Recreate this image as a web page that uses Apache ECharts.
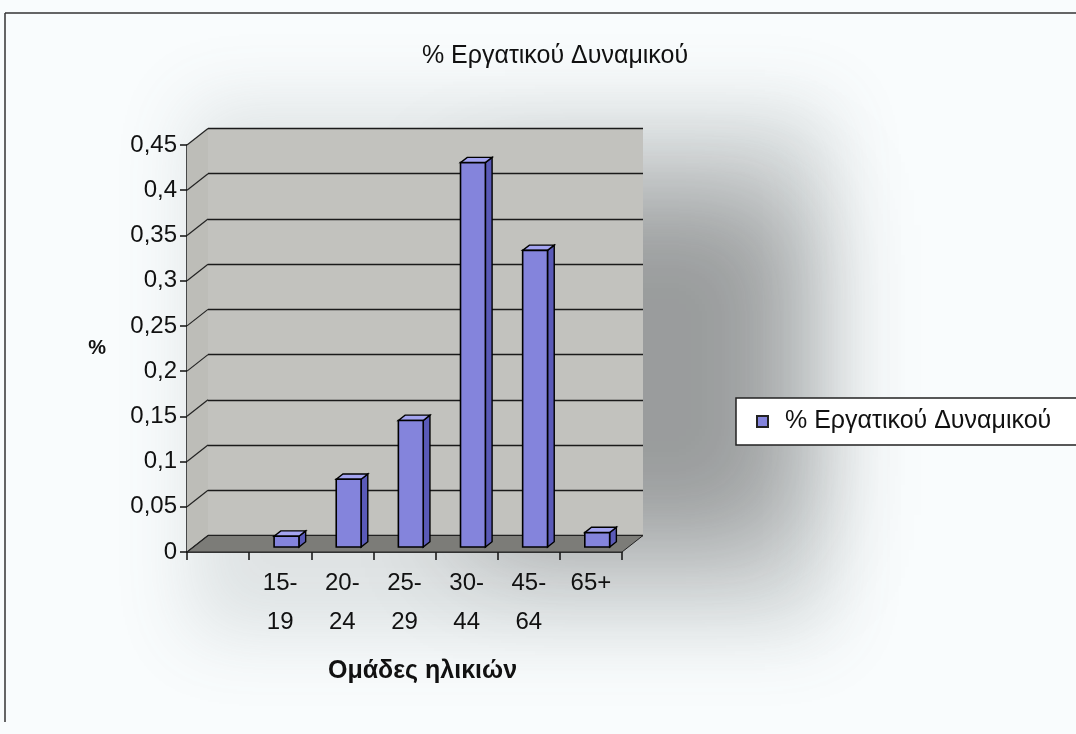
<!DOCTYPE html>
<html><head><meta charset="utf-8">
<script src="https://cdn.jsdelivr.net/npm/echarts@6/dist/echarts.min.js"></script>
<style>html,body{margin:0;padding:0;background:#fff}#c{width:1076px;height:734px}</style>
</head><body><div id="c"></div>
<script>
const categories = ["", "15-\n19", "20-\n24", "25-\n29", "30-\n44", "45-\n64", "65+"];
const values = [null, 0.012, 0.075, 0.140, 0.425, 0.328, 0.016];
const seriesName = "% Εργατικού Δυναμικού";
const titleText = "% Εργατικού Δυναμικού";
const xTitle = "Ομάδες ηλικιών";
const yTitle = "%";
const yMin = 0, yMax = 0.45, yStep = 0.05;
const yTicks = [];
for (let k = 0; k <= Math.round((yMax - yMin) / yStep); k++) yTicks.push(+(yMin + k * yStep).toFixed(2));

const DX = 21, DY = -16.5;
const FONT = "Liberation Sans";
const chart = echarts.init(document.getElementById('c'));

function renderFrame(params, api) {
  const bw = api.size([1, 0])[0];
  const n = categories.length;
  const L = api.coord([0, yMin])[0] - bw / 2;
  const R = api.coord([n - 1, yMin])[0] + bw / 2;
  const yb = api.coord([0, yMin])[1];
  const yt = api.coord([0, yMax])[1];
  const ch = [];
  ch.push({type: 'polygon', shape: {points: [[L, yt], [L + DX, yt + DY], [L + DX, yb + DY], [L, yb]]},
    style: {fill: '#bdbdb8', stroke: null}});
  ch.push({type: 'polygon', shape: {points: [[L, yb], [R, yb], [R + DX, yb + DY], [L + DX, yb + DY]]},
    style: {fill: '#7c7c78', stroke: '#222', lineWidth: 1}});
  yTicks.forEach(t => {
    const y = api.coord([0, t])[1];
    ch.push({type: 'line', shape: {x1: L, y1: y, x2: L + DX, y2: y + DY}, style: {stroke: '#222', lineWidth: 1.2}});
  });
  return {type: 'group', children: ch};
}

function renderBar(params, api) {
  const idx = api.value(0), v = api.value(1);
  const bw = api.size([1, 0])[0];
  const base = api.coord([idx, yMin]);
  const top = api.coord([idx, v]);
  const w = bw * 0.4;
  const f0 = 0.3, f1 = 0.62;
  const ddx = DX * (f1 - f0), ddy = DY * (f1 - f0);
  const x0 = base[0] - w / 2 + DX * f0;
  const yb = base[1] + DY * f0;
  const yt = top[1] + DY * f0;
  return {type: 'group', children: [
    {type: 'polygon', shape: {points: [[x0 + w, yt], [x0 + w + ddx, yt + ddy], [x0 + w + ddx, yb + ddy], [x0 + w, yb]]},
      style: {fill: '#5a5ab8', stroke: '#000', lineWidth: 1.4}},
    {type: 'polygon', shape: {points: [[x0, yt], [x0 + w, yt], [x0 + w + ddx, yt + ddy], [x0 + ddx, yt + ddy]]},
      style: {fill: '#a4a4f0', stroke: '#000', lineWidth: 1.4}},
    {type: 'rect', shape: {x: x0, y: yt, width: w, height: yb - yt},
      style: {fill: '#8484dc', stroke: '#000', lineWidth: 1.6}}
  ]};
}

const fmt = v => String(+v.toFixed(2)).replace('.', ',');
const OFF = 4000;

chart.setOption({
  animation: false,
  backgroundColor: '#f9fcfd',
  textStyle: {fontFamily: FONT},
  graphic: [
    {type: 'rect', z: -10, silent: true, shape: {x: 190 + OFF, y: 105, width: 640, height: 530},
      style: {fill: '#000', shadowBlur: 70, shadowColor: 'rgba(90,100,100,0.16)', shadowOffsetX: -OFF}},
    {type: 'rect', z: -10, silent: true, shape: {x: 470 + OFF, y: 190, width: 330, height: 360},
      style: {fill: '#000', shadowBlur: 100, shadowColor: 'rgba(50,50,50,0.40)', shadowOffsetX: -OFF}},
    {type: 'line', z: 10, shape: {x1: 5, y1: 13, x2: 1076, y2: 13}, style: {stroke: '#333', lineWidth: 1.5}},
    {type: 'line', z: 10, shape: {x1: 5, y1: 13, x2: 5, y2: 722}, style: {stroke: '#333', lineWidth: 1.5}}
  ],
  title: {text: titleText, left: 550, top: 39, textAlign: 'center',
    textStyle: {fontFamily: FONT, fontSize: 25, fontWeight: 'normal', color: '#111'}},
  legend: {
    left: 736, top: 398, orient: 'vertical',
    backgroundColor: '#ffffff', borderColor: '#222', borderWidth: 1.5,
    padding: [11, 40, 11, 20],
    itemWidth: 11, itemHeight: 11, itemGap: 0,
    icon: 'rect',
    itemStyle: {color: '#8484dc', borderColor: '#222', borderWidth: 2},
    textStyle: {fontFamily: FONT, fontSize: 25, color: '#111', padding: [0, 0, 0, 12]},
    data: [seriesName]
  },
  grid: [
    {left: 187 + DX, top: 145 + DY, width: 435, height: 407, show: true, backgroundColor: '#c2c2be', borderWidth: 0},
    {left: 187, top: 145, width: 435, height: 407}
  ],
  xAxis: [
    {gridIndex: 0, type: 'category', data: categories, show: false},
    {gridIndex: 1, type: 'category', data: categories,
      axisLine: {lineStyle: {color: '#111', width: 1.5}},
      axisTick: {show: true, length: 8, lineStyle: {color: '#111', width: 1.5}},
      axisLabel: {fontFamily: FONT, fontSize: 24, color: '#111', lineHeight: 39, margin: 12, interval: 0},
      name: xTitle, nameLocation: 'middle', nameGap: 107,
      nameTextStyle: {fontFamily: FONT, fontSize: 25, fontWeight: 'bold', color: '#111', padding: [0, 0, 0, 36]}}
  ],
  yAxis: [
    {gridIndex: 0, type: 'value', min: yMin, max: yMax, interval: yStep,
      axisLine: {show: false}, axisTick: {show: false}, axisLabel: {show: false},
      splitLine: {show: true, lineStyle: {color: '#1a1a1a', width: 1.3}}},
    {gridIndex: 1, type: 'value', min: yMin, max: yMax, interval: yStep,
      axisLine: {show: true, lineStyle: {color: '#111', width: 1.5}},
      axisTick: {show: true, length: 7, lineStyle: {color: '#111', width: 1.5}},
      axisLabel: {fontFamily: FONT, fontSize: 24, color: '#111', margin: 10, formatter: fmt},
      splitLine: {show: false},
      name: yTitle, nameLocation: 'middle', nameRotate: 0, nameGap: 81,
      nameTextStyle: {fontFamily: FONT, fontSize: 20, fontWeight: 'bold', color: '#111'}}
  ],
  series: [
    {type: 'custom', name: '_frame', xAxisIndex: 1, yAxisIndex: 1, renderItem: renderFrame,
      data: [[0, 0]], silent: true, z: 1},
    {type: 'custom', name: seriesName, xAxisIndex: 1, yAxisIndex: 1, renderItem: renderBar, z: 3,
      itemStyle: {color: '#8484dc'},
      data: values.map((v, i) => [i, v]).filter(d => d[1] !== null)}
  ]
});
</script></body></html>
